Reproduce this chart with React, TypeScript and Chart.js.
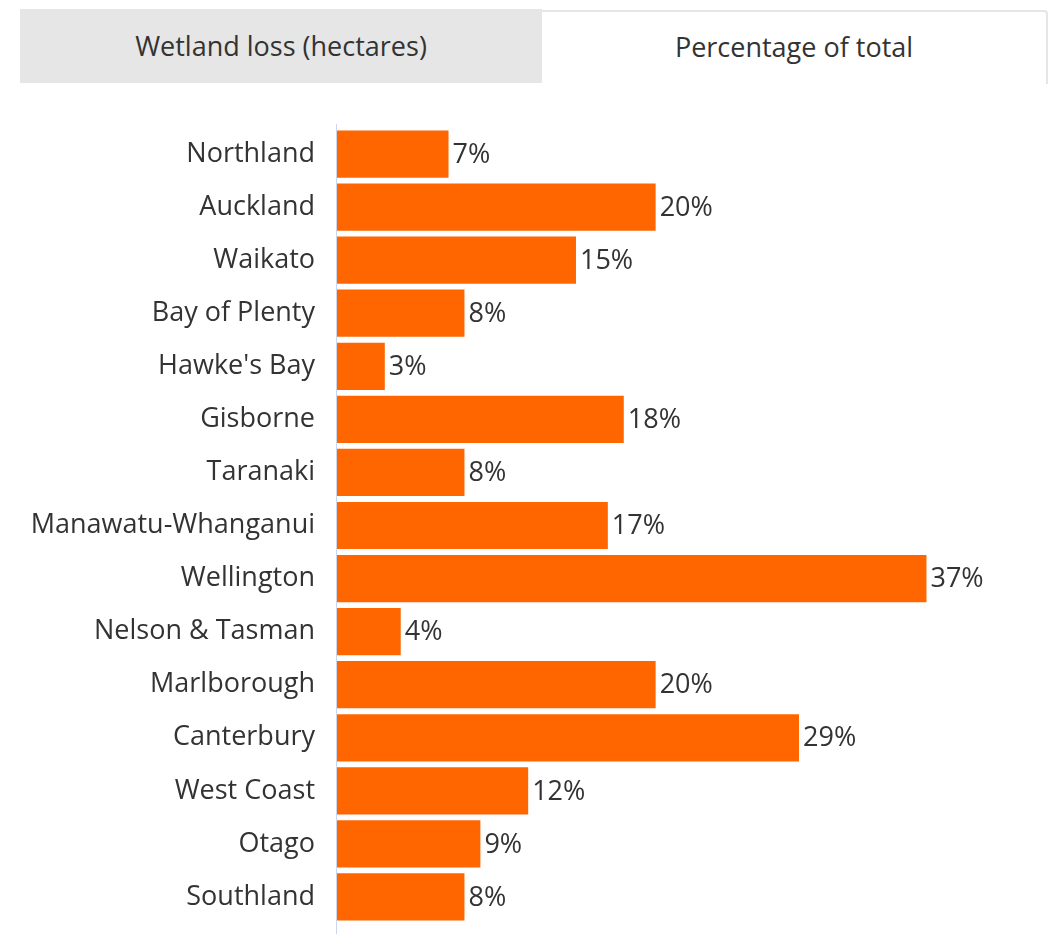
import React, { useEffect, useRef } from "react";
import { Chart, registerables } from "chart.js";

Chart.register(...registerables);

const regions = [
  "Northland",
  "Auckland",
  "Waikato",
  "Bay of Plenty",
  "Hawke's Bay",
  "Gisborne",
  "Taranaki",
  "Manawatu-Whanganui",
  "Wellington",
  "Nelson & Tasman",
  "Marlborough",
  "Canterbury",
  "West Coast",
  "Otago",
  "Southland",
];
const percentages = [7, 20, 15, 8, 3, 18, 8, 17, 37, 4, 20, 29, 12, 9, 8];
const tabLabels = ["Wetland loss (hectares)", "Percentage of total"];

const FONT = "'Open Sans', 'Noto Sans', sans-serif";

export default function App() {
  const canvasRef = useRef<HTMLCanvasElement | null>(null);

  useEffect(() => {
    document.body.style.margin = "0";
    const canvas = canvasRef.current;
    if (!canvas) return;

    const labelPlugin = {
      id: "barValueLabels",
      afterDatasetsDraw(chart: any) {
        const ctx = chart.ctx;
        const meta = chart.getDatasetMeta(0);
        ctx.save();
        ctx.font = `27px ${FONT}`;
        ctx.fillStyle = "#333333";
        ctx.textAlign = "left";
        ctx.textBaseline = "middle";
        meta.data.forEach((bar: any, i: number) => {
          ctx.fillText(`${percentages[i]}%`, bar.x + 4, bar.y + 1);
        });
        ctx.restore();
      },
    };

    const axisLinePlugin = {
      id: "axisLine",
      beforeDatasetsDraw(chart: any) {
        const ctx = chart.ctx;
        const x = chart.chartArea.left - 0.5;
        ctx.save();
        ctx.strokeStyle = "#ccd6eb";
        ctx.lineWidth = 1;
        ctx.beginPath();
        ctx.moveTo(x, 24);
        ctx.lineTo(x, chart.height);
        ctx.stroke();
        ctx.restore();
      },
    };

    const chart = new Chart(canvas, {
      type: "bar",
      data: {
        labels: regions,
        datasets: [
          {
            data: percentages,
            backgroundColor: "#ff6600",
            borderWidth: 0,
            barPercentage: 0.89,
            categoryPercentage: 1,
          },
        ],
      },
      options: {
        indexAxis: "y",
        animation: false,
        responsive: false,
        maintainAspectRatio: false,
        layout: {
          autoPadding: false,
          padding: { top: 27.5, bottom: 10.5, right: 18, left: 0 },
        },
        plugins: {
          legend: { display: false },
          tooltip: { enabled: false },
          title: { display: false },
        },
        scales: {
          x: {
            display: false,
            min: 0,
            max: 44,
          },
          y: {
            afterFit: (scale: any) => {
              scale.width = 337;
              scale.paddingTop = 0;
              scale.paddingBottom = 0;
            },
            grid: { display: false, drawTicks: false },
            border: { display: false },
            ticks: {
              color: "#333333",
              padding: 22,
              font: { family: FONT, size: 27 },
            },
          },
        },
      },
      plugins: [labelPlugin, axisLinePlugin],
    });

    return () => chart.destroy();
  }, []);

  return (
    <div
      style={{
        position: "relative",
        width: 1056,
        height: 934,
        background: "#ffffff",
        fontFamily: FONT,
        overflow: "hidden",
      }}
    >
      <div
        style={{
          position: "absolute",
          left: 20,
          top: 9,
          width: 522,
          height: 74,
          background: "#e6e6e6",
          color: "#333333",
          fontSize: 27,
          display: "flex",
          alignItems: "center",
          justifyContent: "center",
          paddingBottom: 2,
          boxSizing: "border-box",
        }}
      >
        {tabLabels[0]}
      </div>
      <div
        style={{
          position: "absolute",
          left: 542,
          top: 10,
          width: 506,
          height: 74,
          background: "#ffffff",
          borderTop: "2px solid #e6e6e6",
          borderRight: "2px solid #e6e6e6",
          borderTopRightRadius: 4,
          color: "#333333",
          fontSize: 27,
          display: "flex",
          alignItems: "center",
          justifyContent: "center",
          paddingBottom: 4,
          boxSizing: "border-box",
        }}
      >
        {tabLabels[1]}
      </div>
      <canvas
        ref={canvasRef}
        width={1056}
        height={834}
        style={{ position: "absolute", left: 0, top: 100, width: 1056, height: 834 }}
      />
    </div>
  );
}
